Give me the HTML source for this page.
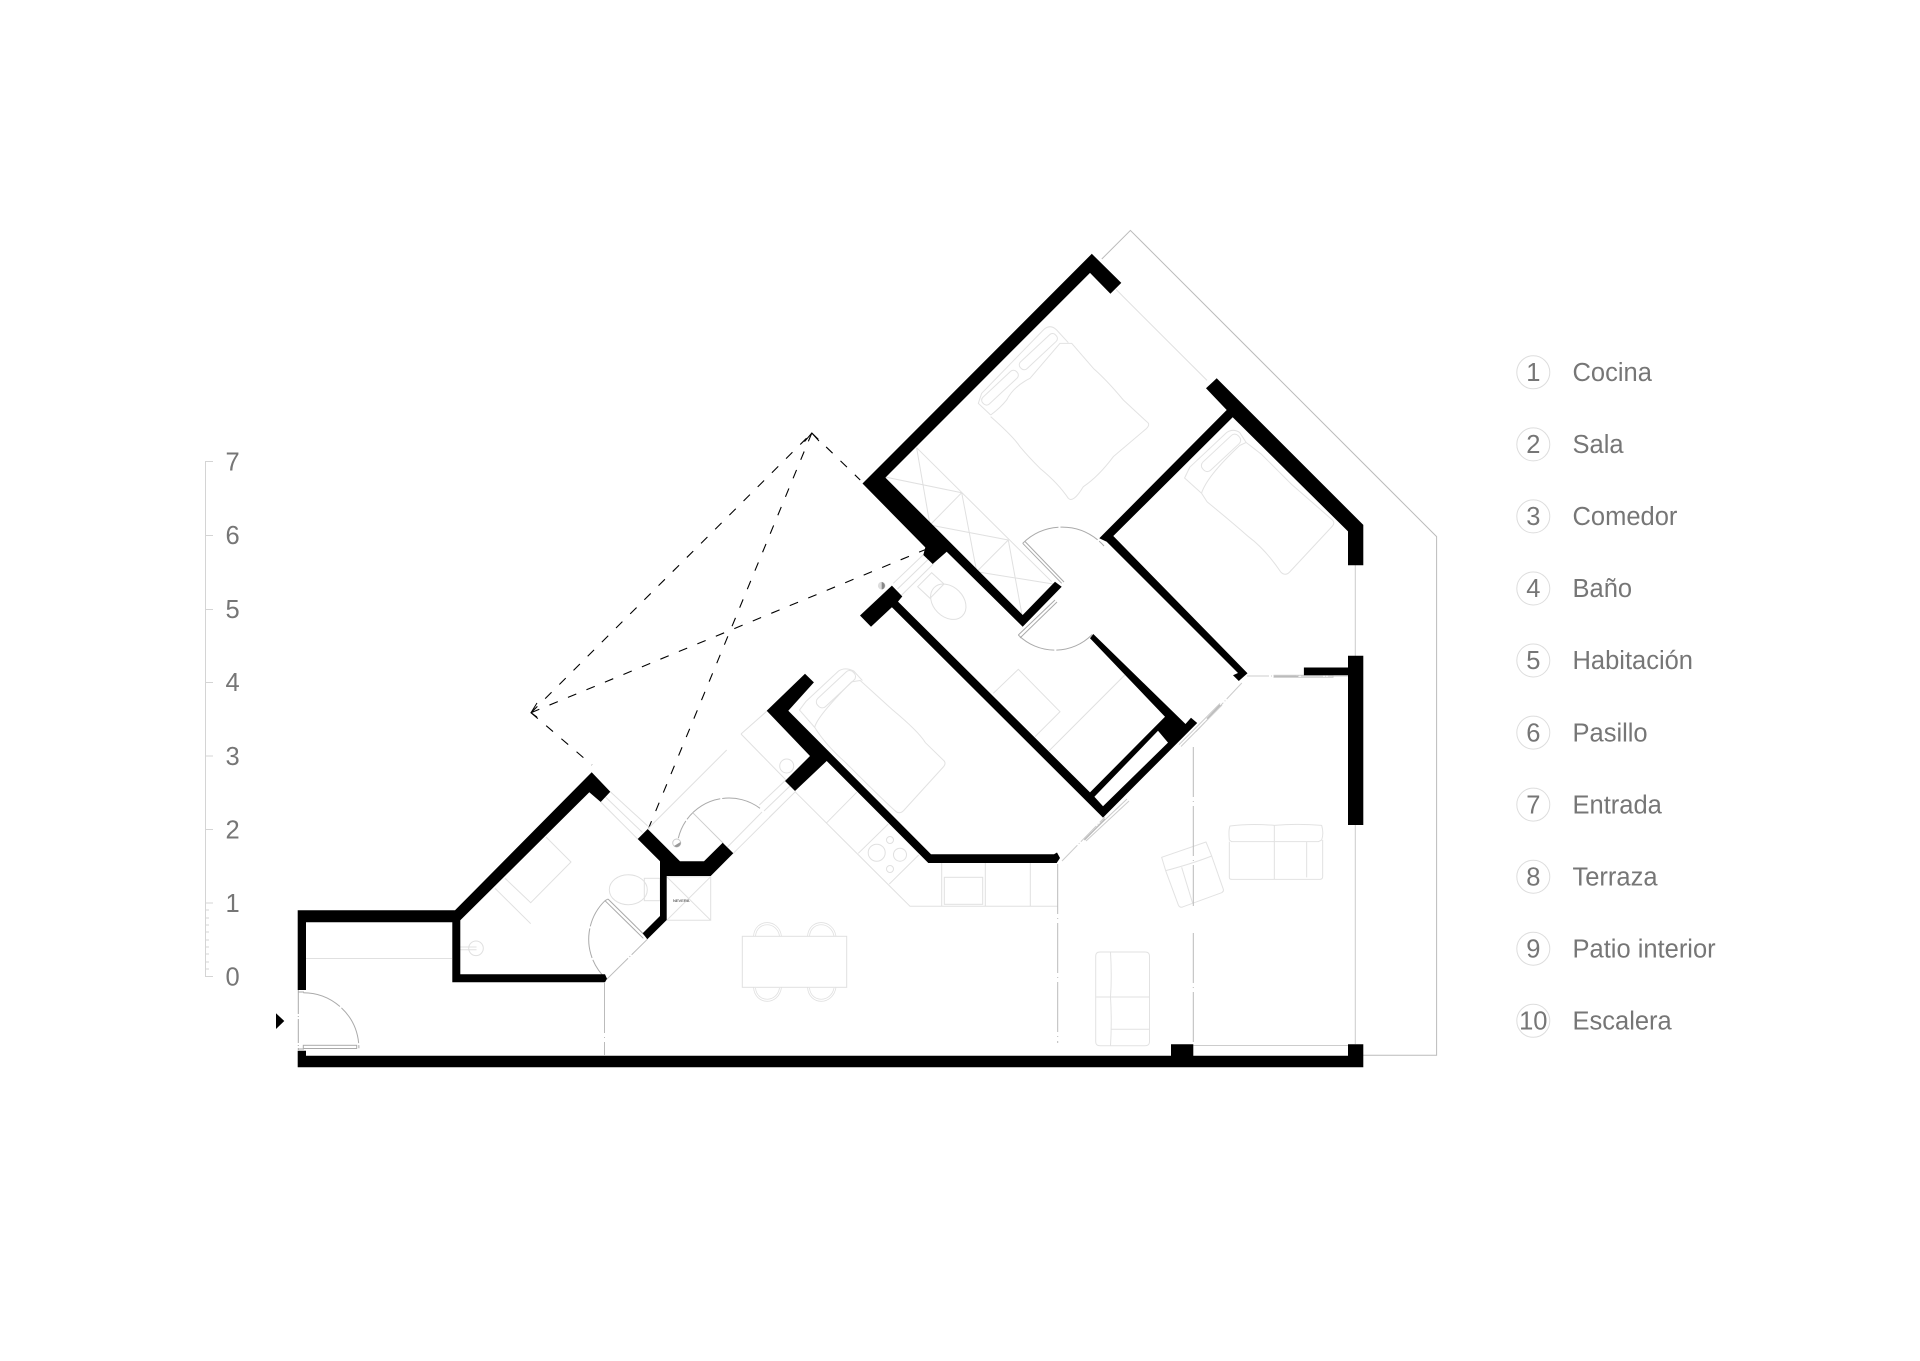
<!DOCTYPE html>
<html>
<head>
<meta charset="utf-8">
<style>
html,body{margin:0;padding:0;background:#fff}
svg{display:block}
text{font-family:"Liberation Sans",sans-serif;fill:#767676;font-size:25.5px}
.l{fill:none;stroke:#e0e0e0;stroke-width:1}
.m{fill:none;stroke:#bbb;stroke-width:1}
.n{vector-effect:non-scaling-stroke;fill:none;stroke:#e2e2e2;stroke-width:1;stroke-linejoin:round}
.d{fill:none;stroke:#000;stroke-width:1.1;stroke-dasharray:9 11}
.dd{fill:none;stroke:#bbb;stroke-width:1;stroke-dasharray:50 4 1 4}
</style>
</head>
<body>
<svg xmlns="http://www.w3.org/2000/svg" width="1920" height="1361" viewBox="0 0 1920 1361">
<rect width="1920" height="1361" fill="#fff"/>

<!-- scale -->
<g stroke="#d4d4d4" stroke-width="1" fill="none">
<path d="M205.5 461.5V976.5M205 461.5H213M205 535.5H213M205 609.5H213M205 682.5H213M205 756H213M205 829.5H213M205 903H213M205 976.5H213"/>
<path d="M205 910H209M205 918H209M205 925H209M205 932H209M205 940H209M205 947H209M205 954H209M205 962H209M205 969H209"/>
</g>
<text x="225.5" y="470.5">7</text><text x="225.5" y="544">6</text><text x="225.5" y="618">5</text><text x="225.5" y="691">4</text>
<text x="225.5" y="765">3</text><text x="225.5" y="838.5">2</text><text x="225.5" y="912">1</text><text x="225.5" y="985.5">0</text>

<!-- legend -->
<g fill="none" stroke="#ddd" stroke-width="1">
<circle cx="1533.3" cy="372.3" r="16.5"/><circle cx="1533.3" cy="444.4" r="16.5"/><circle cx="1533.3" cy="516.4" r="16.5"/><circle cx="1533.3" cy="588.5" r="16.5"/><circle cx="1533.3" cy="660.5" r="16.5"/>
<circle cx="1533.3" cy="732.6" r="16.5"/><circle cx="1533.3" cy="804.6" r="16.5"/><circle cx="1533.3" cy="876.7" r="16.5"/><circle cx="1533.3" cy="948.7" r="16.5"/><circle cx="1533.3" cy="1020.8" r="16.5"/>
</g>
<g text-anchor="middle">
<text x="1533.3" y="381">1</text><text x="1533.3" y="453.1">2</text><text x="1533.3" y="525.1">3</text><text x="1533.3" y="597.2">4</text><text x="1533.3" y="669.2">5</text>
<text x="1533.3" y="741.3">6</text><text x="1533.3" y="813.3">7</text><text x="1533.3" y="885.4">8</text><text x="1533.3" y="957.4">9</text><text x="1533.3" y="1029.5">10</text>
</g>
<text x="1572.5" y="381">Cocina</text><text x="1572.5" y="453.1">Sala</text><text x="1572.5" y="525.1">Comedor</text><text x="1572.5" y="597.2">Baño</text><text x="1572.5" y="669.2">Habitación</text>
<text x="1572.5" y="741.3">Pasillo</text><text x="1572.5" y="813.3">Entrada</text><text x="1572.5" y="885.4">Terraza</text><text x="1572.5" y="957.4">Patio interior</text><text x="1572.5" y="1029.5">Escalera</text>

<!-- light lines: terrace -->
<path class="m" d="M1101.8 259L1130.4 230.4L1436.6 536.6V1055.3H1363"/>
<path class="l" d="M1116 289.4L1207 380.4"/>
<path fill="none" stroke="#ccc" d="M1355.3 565V656M1355.3 825V1044M1193 1045.5H1348"/>
<path class="l" d="M306 958.5H452"/>

<!-- dashed patio -->
<path class="d" d="M531 712.7L811.8 433M811.8 433L860.2 480M531 712.7L592 765M811.8 433L648.5 828.5M531 712.7L925.3 549.6"/>
<path fill="none" stroke="#000" stroke-width="1" d="M804.5 441.7L811.8 433L819 441M537 703L531 712.7L537 717"/>

<!-- bath 1 furniture -->
<path class="l" d="M495 888.3L530.7 923.7M505 878.3L530.7 902.7L571 862L546 837"/>
<circle class="l" cx="476" cy="948.3" r="7.3"/>
<path class="l" d="M459.5 947H476.5M459.5 949.7H476.5"/>
<ellipse class="l" cx="628.3" cy="889.7" rx="19" ry="15"/>
<rect class="l" x="644.3" y="878.3" width="15.7" height="22.4"/>

<!-- fridge -->
<path class="l" d="M666.7 876.7H710.7V920.3H666.7M666.7 876.7L710.7 920.3M666.7 920.3L710.7 876.7"/>
<text x="673" y="901.8" style="font-size:4px;fill:#222">NEVERA</text>

<!-- table + chairs -->
<rect class="l" x="742.3" y="936.3" width="104.4" height="51" stroke="#ddd"/>
<g class="l" style="stroke-width:.8">
<path d="M753.5 936.3C755 918 779 918 781.5 936.3M755.5 936C757 921 777 921 779.5 936"/>
<path d="M807.5 936.3C809 918 833 918 836 936.3M809.5 936C811 921 831 921 834 936"/>
<path d="M753.5 987.3C755 1006 779 1006 781.5 987.3M755.5 988C757 1003 777 1003 779.5 988"/>
<path d="M807.5 987.3C809 1006 833 1006 836 987.3M809.5 988C811 1003 831 1003 834 988"/>
</g>

<!-- kitchen -->
<path class="l" d="M795 791.7L910 906.3H1057.7M941.7 863V906M985.3 863V906M1030.3 863V906M826.7 822.7L856.7 792.3M858.3 853.3L888.3 824M889.3 884L918.7 855"/>
<rect class="l" x="944.3" y="877.3" width="38.4" height="27"/>
<circle class="l" cx="876.7" cy="852.7" r="8.5"/><circle class="l" cx="900" cy="854.7" r="6.5"/><circle class="l" cx="890" cy="840" r="3.5"/><circle class="l" cx="890" cy="869" r="3.5"/>

<!-- entry corridor lines -->
<path class="l" d="M647.7 829L726.7 750M741 734L767 711M741 734L786 780"/>
<circle class="l" cx="786.7" cy="766" r="7"/>
<path class="l" d="M610.3 791.7L647.7 826M600.7 802L637.7 839M605.5 797L642.5 832.5"/>
<path class="l" d="M759.3 805L785 780.7M769.3 817.3L795.7 791.3M764 811L790 786M727.5 847L762 812M733.3 853.3L795.7 791.3"/>

<!-- wardrobe -->
<path class="l" d="M885 477L961.7 492.7M916.6 447.7L930 525M930 525L961.7 492.7M930 525L1008.3 540M961.7 492.7L976.7 571.7M976.7 571.7L1008.3 540M976.7 571.7L1053 584M1008.3 540L1022 615M916.6 447.7L1051.7 581.7"/>

<!-- bath 2 -->
<path class="l" d="M917.7 586.7L931.7 572.7L944 584L930 598.3Z"/>
<ellipse class="l" cx="948.3" cy="601.7" rx="20" ry="15" transform="rotate(45 948.3 601.7)"/>
<path class="l" d="M923 555L893.3 583.3M933.3 564L901.7 595M928 559.5L897.5 589"/>
<path class="l" d="M993.3 693.3L1018.3 669.3L1060 711.7L1035 736.7M1124.8 675L1048.9 751"/>

<!-- beds -->
<g transform="translate(950 300) scale(.33333)">
<path class="n" d="M122 345L85 310L95 280L280 90Q300 70 320 90L355 128"/>
<path class="n" d="M122 345Q150 325 170 300Q190 260 240 235L330 130L365 130L430 205Q470 240 520 300L590 365Q602 372 590 385L490 470Q445 530 400 560Q370 610 355 595Q325 550 270 505Q235 470 210 440Q190 410 122 350"/>
<rect class="n" x="-69" y="-14" width="138" height="28" rx="12" transform="translate(150 263) rotate(-43)"/>
<rect class="n" x="-72" y="-14" width="144" height="28" rx="12" transform="translate(265 155) rotate(-43)"/>
</g>
<g transform="translate(780 220) scale(.43365)">
<path class="n" d="M972 630L933 595L945 570L1030 490Q1045 480 1060 490L1075 513"/>
<path class="n" d="M972 630Q985 590 1060 520L1075 513L1110 540L1180 610L1272 690Q1282 698 1272 708L1175 812Q1165 822 1155 812Q1120 760 1080 730Q1040 695 985 650Z"/>
<rect class="n" x="-56" y="-13" width="112" height="26" rx="11" transform="translate(1017 537) rotate(-43)"/>
<path class="n" d="M80 1170L45 1130L60 1110L135 1040Q150 1030 170 1040L190 1062"/>
<path class="n" d="M80 1170Q85 1145 165 1065L185 1062L260 1130Q320 1180 335 1205L376 1245Q385 1252 376 1262L285 1362Q275 1372 265 1362Q240 1340 150 1250Q105 1210 80 1170Z"/>
<rect class="n" x="-56" y="-13" width="112" height="26" rx="11" transform="translate(129 1082) rotate(-43)"/>
</g>

<!-- sofas -->
<g transform="translate(1150 800) scale(.33333)">
<path class="n" d="M238 120Q235 90 240 78Q300 70 373 76Q440 70 515 76Q522 100 515 120L505 125H245Z"/>
<path class="n" d="M238 125V232Q238 238 245 238H510Q518 238 518 230V120M373 76V238M470 125V232"/>
<path class="n" d="M35 172L168 126L185 168Q130 190 47 212ZM47 212L85 315Q90 325 100 320L215 278Q222 274 220 268L185 168M95 202L128 310"/>
</g>
<path class="n" d="M1100 952H1145Q1149.5 952 1149.5 956V1041.7Q1149.5 1045.7 1145 1045.7H1100Q1095.7 1045.7 1095.7 1041.7V956Q1095.7 952 1100 952ZM1110.5 952Q1112 977 1110.5 997Q1112 1022 1110.5 1045.7M1095.7 997H1149.5M1111 1029.3H1149.5"/>

<!-- doors -->
<g fill="none" stroke="#aaa" stroke-width="1">
<path d="M303.3 992.7A55.6 55.6 0 0 1 358.9 1048.3" stroke-dasharray="40 2"/>
<path d="M298.3 990V1050" stroke-dasharray="24 2 1 2"/>
<rect x="303.3" y="1045.3" width="53.4" height="3.2"/>
<path d="M298 992H304M298 1049H304"/>
<path d="M605 900.7A53.7 53.7 0 0 0 606.7 979.3" stroke-dasharray="30 2"/>
<path d="M605 900.7L643.3 938.3M608 899L645.5 936M605 900.7L608 899"/>
<path d="M606.7 979.3L647.3 939.3" stroke-dasharray="30 2 1 2" stroke="#bbb"/>
<path d="M760 808.3A52 52 0 0 0 678.3 838.3" stroke-dasharray="40 2"/>
<path d="M692.7 812.7L723.3 843.3" stroke="#ccc"/>
<path d="M1022.7 543.3A56 56 0 0 1 1104 546" stroke-dasharray="40 2"/>
<path d="M1022.7 543.3L1061.7 583.3M1025 541.5L1064 582"/>
<path d="M1018.3 635A52 52 0 0 0 1093.3 633.3" stroke-dasharray="40 2"/>
<path d="M1018.3 635L1055 600M1020 638L1057 602"/>
</g>
<circle cx="676.7" cy="843" r="4" fill="#fff" stroke="#ccc"/><path d="M680.5 842A4 4 0 0 1 674 846Z" fill="#999"/>
<circle cx="881.7" cy="585.7" r="3.8" fill="#ddd"/><path d="M881.7 582A3.8 3.8 0 0 1 881.7 589.5Z" fill="#888"/>

<!-- glass & thin connectors -->
<g fill="none" stroke="#ccc" stroke-width="1">
<path d="M1247 676H1348" stroke-dasharray="22 2 1 2"/>
<rect x="1274" y="675.3" width="59" height="2"/>
<path d="M1241.8 683L1196 731.7" stroke-dasharray="22 2 1 2"/>
<path d="M1179 744.7L1220 703.5M1181 746.5L1222 705"/>
<path d="M1062 861L1105 817" stroke-dasharray="22 2 1 2"/>
<path d="M1084.4 839.3L1127 799M1086 841L1129 801"/>
</g>
<path stroke="#bbb" stroke-width="1.4" fill="none" d="M1274 676.4H1298M1207 718.7L1220 705M1084.4 840L1105 819"/>
<path class="dd" d="M1193.3 747V906M1193.3 933V1044"/>
<path class="dd" d="M1057.7 864V1043"/>
<path class="dd" d="M604.5 983V1055"/>

<!-- walls -->
<g fill="#000">
<polygon points="297.7,910.3 455,910.3 591.7,772.3 610.3,791.7 600.7,802 589.3,792.3 460.3,920.3 460.3,974.3 605,974.3 607,978.7 605,982.3 452.3,982.3 452.3,922.3 306,922.3 306,990 297.7,990"/>
<polygon points="297.7,1050.7 306,1050.7 306,1055.7 1171,1055.7 1171,1044.3 1193.3,1044.3 1193.3,1055.7 1348,1055.7 1348,1044.3 1363.3,1044.3 1363.3,1067.3 297.7,1067.3"/>
<polygon points="647.7,829 680,861.3 704,861.3 722.7,842.7 733.3,853.3 710.7,876 666.7,876 666.7,920 647.3,939.3 642.7,933.3 660,916 660,861.3 637.7,839"/>
<polygon points="766.7,710.7 805,673.7 813.9,682.4 788.3,710.7 931,854.3 1054,854.3 1057,852.5 1060,858 1056.7,863 928.3,863 826.7,761 795,791 785,781 810,756"/>
<polygon points="862.5,483.5 1091.8,253.8 1121.3,282.9 1110.4,293.7 1090,272.9 885.4,477.6 1022.7,615 1055,581.7 1061.7,586.7 1022.7,626.7 946.7,551.7 932.7,564 923.3,555 925.3,547.4"/>
<polygon points="891.9,585.6 902.3,596.4 898,601.6 1090,792.4 1165,716.7 1090,638.3 1093.3,634 1185.5,724 1191,717.8 1197.2,723 1103,817.6 891.9,607.2 871,626.8 860,615.5"/>
<polygon fill="#fff" points="1094.4,796.8 1103,806.3 1168,742.6 1158,730.8"/>
<polygon points="1099.3,538.3 1226.7,410 1206,388.3 1216.7,378.3 1363.3,524.9 1363.3,565.2 1348,565.2 1348,531.4 1232.7,417.3 1113.3,536 1247.5,673.2 1238.8,681 1233,675.3 1238,673 1106.7,541.7"/>
<polygon points="1348,655.8 1363.3,655.8 1363.3,825 1348,825 1348,675.3 1303.9,675.3 1303.9,667.5 1348,667.5"/>
<polygon points="276,1013.3 284.3,1021 276,1029"/>
</g>
</svg>
</body>
</html>
